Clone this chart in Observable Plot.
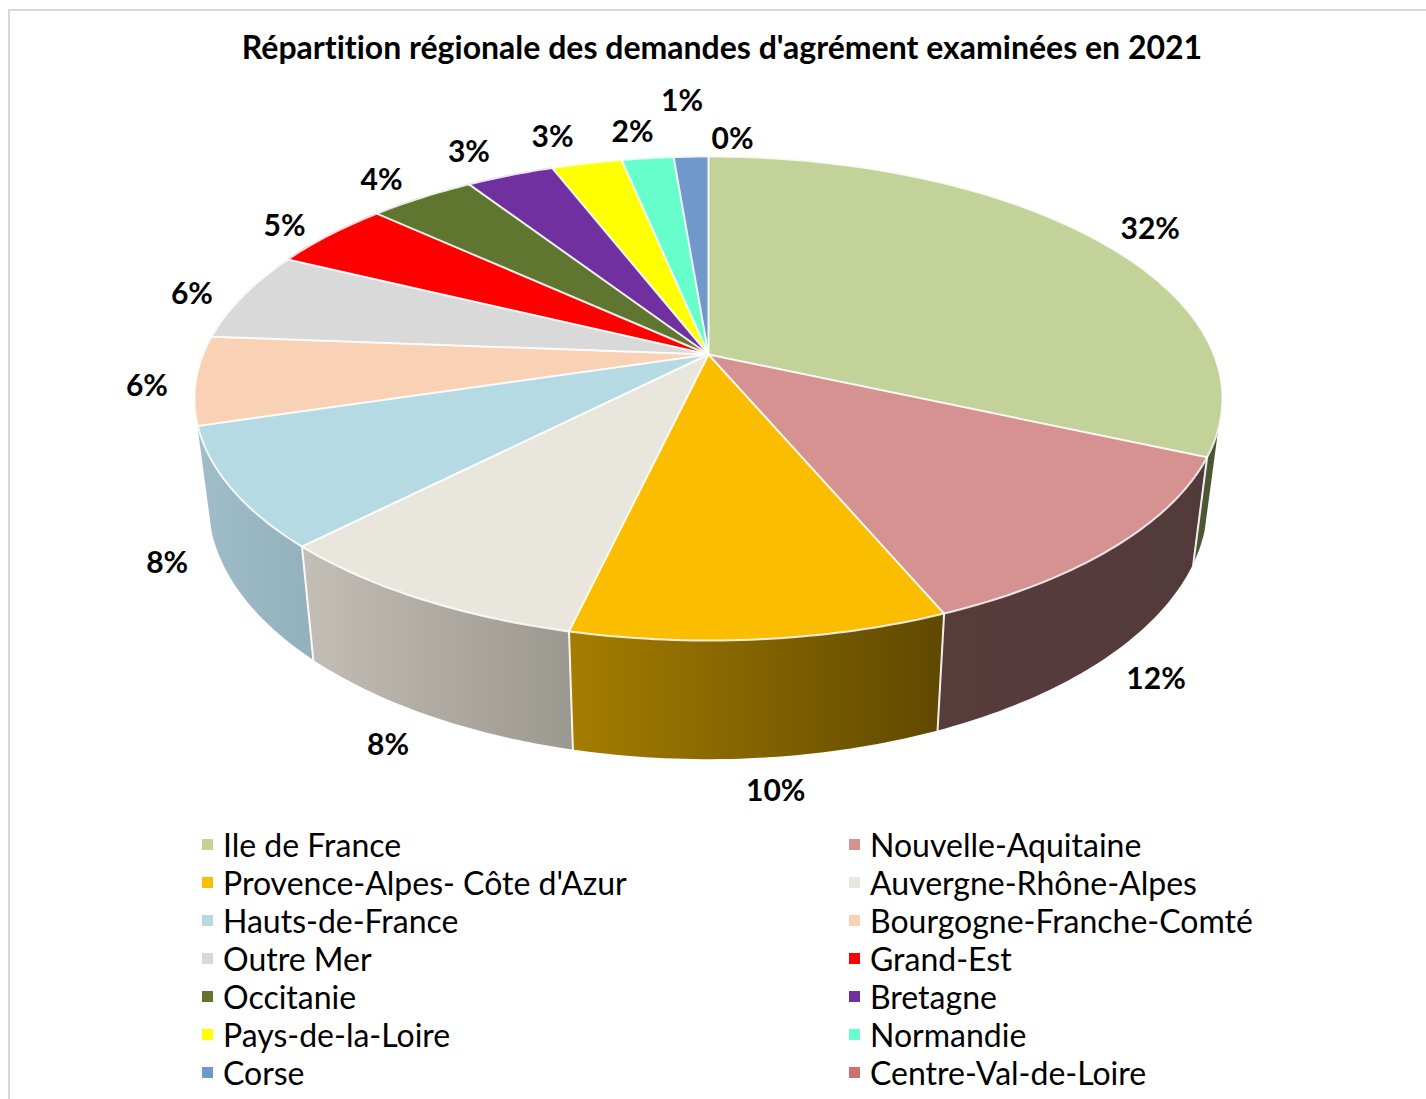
<!DOCTYPE html>
<html lang="fr">
<head>
<meta charset="utf-8">
<script src="https://cdn.jsdelivr.net/npm/d3@7"></script>
<script src="https://cdn.jsdelivr.net/npm/@observablehq/plot@0.6"></script>
<style>
  html, body { margin: 0; background: #fff; }
  #frame { margin: 9px 0 0 8px; border-top: 2px solid #d9d9d9; border-left: 2px solid #d9d9d9; height: 1088px; overflow: hidden; font-family: Lato, sans-serif; color: #000; font-variant-ligatures: none; }
  #title { height: 59px; line-height: 72px; padding-left: 8px; box-sizing: border-box; text-align: center; font-size: 32px; font-weight: 700; white-space: nowrap; }
  #chart svg { display: block; font-variant-ligatures: none; }
  #legend { display: grid; grid-template-columns: 647px 1fr; grid-auto-rows: 38px; margin: 10px 0 0 192px; font-size: 32px; }
  #legend div { display: flex; align-items: center; white-space: nowrap; }
  #legend i { display: block; width: 11px; height: 11px; margin-right: 10px; flex: none; }
</style>
</head>
<body>
<div id="frame">
  <div id="title"></div>
  <div id="chart"></div>
  <div id="legend"></div>
</div>
<script>
const titleText = "Répartition régionale des demandes d'agrément examinées en 2021";
const regions = ["Ile de France", "Nouvelle-Aquitaine", "Provence-Alpes- Côte d'Azur", "Auvergne-Rhône-Alpes", "Hauts-de-France", "Bourgogne-Franche-Comté", "Outre Mer", "Grand-Est", "Occitanie", "Bretagne", "Pays-de-la-Loire", "Normandie", "Corse", "Centre-Val-de-Loire"];
const shares = [31.7, 12, 10, 8.7, 8, 5.9, 6, 4.6, 4, 3.3, 2.65, 1.95, 1.3, 0];
const labels = ["32%", "12%", "10%", "8%", "8%", "6%", "6%", "5%", "4%", "3%", "3%", "2%", "1%", "0%"];
const colors = ["#c2d298", "#d59291", "#fbbd00", "#e9e7dd", "#b6dae3", "#f9d1b5", "#d9d9d9", "#ff0000", "#5f7530", "#7030a0", "#ffff00", "#66ffcc", "#7099c9", "#cc7070"];
const wallShades = [["#4e5937", "#4a5433"], ["#573c3c", "#533a3a"], ["#a67d00", "#5f4900"], ["#c3beb6", "#9b9890"], ["#a0bdc9", "#92b1bc"]];

// Perspective of the tilted disc, and the visible arc of its outer wall (fractions of a turn)
const tilt = 0.1818, wallScaleX = 0.972, wallScaleY = 1.06, wallShift = 0.436;
const wallFrom = 0.296, wallTo = 0.704;
const pxX = 514, pxY = 234;
const labelNudge = [[56,-9],[41,133],[15,152],[-31,147],[-64,75],[-49,6],[-51,-2],[-45,-9],[-40,-17],[-41,-23],[-34,-26],[-15,-26],[-9,-55],[24,-17]];

const rim = t => {
  const a = 2 * Math.PI * t, u = Math.sin(a), v = -Math.cos(a), d = 1 - tilt * v;
  return [Math.sqrt(1 - tilt * tilt) * u / d, v / d];
};
const bottom = ([x, y]) => [x * wallScaleX, y * wallScaleY + wallShift];
const samples = (a, b) => { const n = Math.max(2, Math.ceil((b - a) * 400)); return d3.range(n + 1).map(i => a + (b - a) * i / n); };

const total = d3.sum(shares);
const starts = d3.cumsum([0, ...shares]).map(s => s / total);
const slices = regions.map((name, i) => ({name, i, from: starts[i], to: starts[i + 1], color: colors[i]}));

const tops = slices.filter(s => s.to > s.from).map(s => ({...s, pts: samples(s.from, s.to).map(rim)}));
const walls = slices.filter(s => s.i < wallShades.length).map(s => {
  const a = Math.max(s.from, wallFrom), b = Math.min(s.to, wallTo);
  return {...s, a, b, pts: samples(a, b).map(t => { const p = rim(t); return [p, bottom(p)]; })};
});
const edgeRows = walls.slice(1).map(w => { const p = rim(w.a); return {p, q: bottom(p)}; });
const spokeRows = tops.map(s => rim(s.from));
const labelRows = slices.map((s, i) => {
  const [x, y] = rim((s.from + s.to) / 2);
  return {label: labels[i], x: x + labelNudge[i][0] / pxX, y: y + labelNudge[i][1] / pxY};
});

const defs = () => {
  const svg = d3.create("svg:defs");
  walls.forEach(w => {
    const g = svg.append("linearGradient").attr("id", "wall-" + w.i);
    g.append("stop").attr("offset", 0).attr("stop-color", wallShades[w.i][0]);
    g.append("stop").attr("offset", 1).attr("stop-color", wallShades[w.i][1]);
  });
  return svg.node();
};

const chart = Plot.plot({
  width: 1416, height: 745,
  margin: 0,
  x: {domain: [-1, 1], range: [184, 1212], axis: null},
  y: {domain: [-1, 1], range: [50, 518], axis: null},
  style: {background: "transparent", fontFamily: "Lato, sans-serif"},
  marks: [
    defs,
    ...walls.map(w => Plot.area(w.pts, {
      x1: d => d[0][0], y1: d => d[0][1], x2: d => d[1][0], y2: d => d[1][1],
      fill: `url(#wall-${w.i})`, curve: "linear"
    })),
    Plot.link(edgeRows, {x1: d => d.p[0], y1: d => d.p[1], x2: d => d.q[0], y2: d => d.q[1], stroke: "#fff", strokeWidth: 2, strokeOpacity: 0.9}),
    ...tops.map(s => Plot.area(s.pts, {
      x1: d => d[0], y1: d => d[1], x2: 0, y2: () => 0,
      fill: s.color, curve: "linear"
    })),
    ...tops.map(s => Plot.line(s.pts, {x: d => d[0], y: d => d[1], stroke: "#fff", strokeWidth: 2, strokeOpacity: 0.85})),
    Plot.link(spokeRows, {x1: () => 0, y1: () => 0, x2: d => d[0], y2: d => d[1], stroke: "#fff", strokeWidth: 2, strokeOpacity: 0.9}),
    Plot.text(labelRows, {x: "x", y: "y", text: "label", fontSize: 30, fontWeight: 700, fill: "#000", textAnchor: "middle", lineAnchor: "middle"})
  ]
});

document.getElementById("title").textContent = titleText;
document.getElementById("chart").append(chart);
const legend = d3.select("#legend");
regions.forEach((name, i) => {
  const row = legend.append("div");
  row.append("i").style("background", colors[i]);
  row.append("span").text(name);
});
</script>
</body>
</html>
